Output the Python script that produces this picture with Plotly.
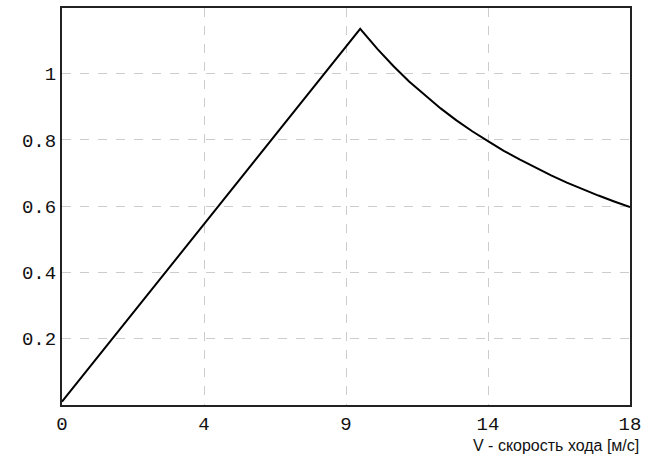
import plotly.graph_objects as go

# Speed grid [m/s] and the characteristic read at each point
speed = [0.0, 9.45, 10.0, 10.5, 11.0, 11.5, 12.0, 12.5, 13.0, 13.5, 14.0,
         14.5, 15.0, 15.5, 16.0, 16.5, 17.0, 17.5, 18.0]
value = [0.01, 1.135, 1.074, 1.023, 0.976, 0.934, 0.895, 0.859, 0.826, 0.796,
         0.767, 0.741, 0.716, 0.693, 0.671, 0.651, 0.632, 0.614, 0.597]

x_tickvals = [0, 4.5, 9, 13.5, 18]
x_ticktext = ["0", "4", "9", "14", "18"]
y_tickvals = [0.2, 0.4, 0.6, 0.8, 1.0]
y_ticktext = ["0.2", "0.4", "0.6", "0.8", "1"]

fig = go.Figure()
fig.add_trace(go.Scatter(x=speed, y=value, mode="lines",
                         line=dict(color="black", width=2), showlegend=False,
                         hoverinfo="x+y"))

grid = dict(showgrid=True, gridcolor="#cccccc", griddash="dash", gridwidth=1,
            zeroline=False, showline=True, linecolor="#222222", linewidth=2,
            mirror=True, ticks="", tickfont=dict(family="Liberation Mono",
                                                 size=19, color="#111111"))

fig.update_xaxes(range=[0, 18], tickvals=x_tickvals, ticktext=x_ticktext,
                 **grid)
fig.update_yaxes(range=[0, 1.198], tickvals=y_tickvals, ticktext=y_ticktext,
                 **grid)

fig.add_annotation(text="V - скорость хода [м/с]", xref="paper", yref="paper",
                   x=1.018, y=-0.078, xanchor="right", yanchor="top",
                   showarrow=False, borderpad=0,
                   font=dict(family="Liberation Sans Narrow, Liberation Sans",
                             size=16, color="#111111"))

fig.update_layout(width=647, height=465,
                  margin=dict(l=62, r=17, t=6, b=60),
                  plot_bgcolor="white", paper_bgcolor="white")

fig.write_html("out.html")
